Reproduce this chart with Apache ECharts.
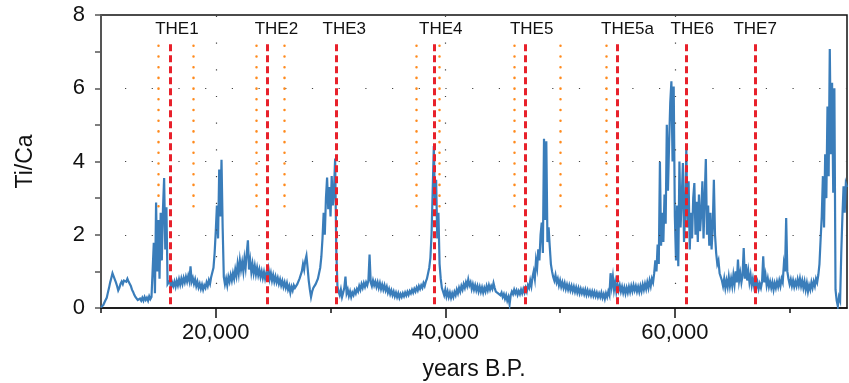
<!DOCTYPE html>
<html>
<head>
<meta charset="utf-8">
<script src="https://cdn.jsdelivr.net/npm/echarts@6/dist/echarts.min.js"></script>
<style>
  html, body { margin: 0; padding: 0; background: #fff; }
  #chart { width: 849px; height: 383px; }
</style>
</head>
<body>
<div id="chart"></div>
<script>
// Ti/Ca record, every 100 years from 10,000 to 75,000 yr B.P.
var startYear = 10000;
var stepYears = 100;
var tiCa = [
  /* 10000 */ 0.02,0.05,0.08,0.15,0.22,0.28,0.42,0.55,0.7,0.82,
  /* 11000 */ 0.95,0.9,0.78,0.7,0.6,0.48,0.55,0.66,0.72,0.65,
  /* 12000 */ 0.75,0.78,0.72,0.8,0.72,0.66,0.6,0.5,0.44,0.36,
  /* 13000 */ 0.3,0.25,0.22,0.18,0.26,0.2,0.28,0.2,0.3,0.22,
  /* 14000 */ 0.28,0.2,0.32,0.24,0.3,0.28,1.78,0.4,2.88,1.0,
  /* 15000 */ 2.4,0.8,2.6,1.3,2.7,3.55,1.6,2.75,0.65,0.62,
  /* 16000 */ 0.75,0.55,0.7,0.6,0.72,0.58,0.74,0.62,0.78,0.64,
  /* 17000 */ 0.8,0.66,0.82,0.7,0.85,0.72,0.88,0.74,1.14,0.72,
  /* 18000 */ 0.82,0.66,0.78,0.6,0.72,0.56,0.66,0.52,0.64,0.5,
  /* 19000 */ 0.62,0.55,0.7,0.6,0.76,0.66,0.85,0.9,1.1,1.5,
  /* 20000 */ 2.1,2.8,1.9,3.78,2.5,4.05,2.2,0.85,0.65,0.8,
  /* 21000 */ 0.62,0.85,0.72,0.9,0.75,0.95,0.8,1.05,0.88,1.2,
  /* 22000 */ 0.95,1.3,1.05,1.25,1.0,1.35,1.1,1.5,1.85,1.05,
  /* 23000 */ 1.3,0.98,1.2,0.95,1.15,0.92,1.1,0.9,1.05,0.85,
  /* 24000 */ 1.0,0.82,0.98,0.8,0.95,0.85,1.05,0.8,0.95,0.75,
  /* 25000 */ 0.9,0.72,0.86,0.7,0.82,0.66,0.78,0.62,0.74,0.58,
  /* 26000 */ 0.7,0.55,0.68,0.5,0.6,0.42,0.58,0.48,0.62,0.55,
  /* 27000 */ 0.55,0.65,0.6,0.8,0.75,1.0,1.2,1.05,1.3,1.43,
  /* 28000 */ 1.1,0.75,0.5,0.3,0.45,0.55,0.5,0.65,0.6,0.8,
  /* 29000 */ 0.95,1.1,1.4,1.9,2.6,2.0,3.0,3.56,2.7,3.3,
  /* 30000 */ 2.5,3.6,2.8,3.2,4.08,1.6,0.6,0.45,0.35,0.5,
  /* 31000 */ 0.3,0.42,0.55,0.86,0.4,0.5,0.33,0.45,0.3,0.42,
  /* 32000 */ 0.35,0.48,0.4,0.52,0.45,0.6,0.5,0.65,0.55,0.68,
  /* 33000 */ 0.58,0.7,0.62,0.75,1.46,0.7,0.6,0.75,0.62,0.72,
  /* 34000 */ 0.58,0.7,0.55,0.68,0.52,0.64,0.5,0.62,0.48,0.58,
  /* 35000 */ 0.42,0.52,0.38,0.48,0.35,0.45,0.32,0.42,0.3,0.4,
  /* 36000 */ 0.28,0.38,0.3,0.4,0.32,0.42,0.34,0.44,0.36,0.46,
  /* 37000 */ 0.4,0.5,0.42,0.52,0.45,0.56,0.48,0.6,0.52,0.62,
  /* 38000 */ 0.55,0.68,0.6,0.72,0.8,0.95,1.1,1.37,2.0,3.2,
  /* 39000 */ 4.42,2.8,3.5,1.9,2.6,1.2,0.8,0.55,0.45,0.35,
  /* 40000 */ 0.5,0.32,0.45,0.3,0.42,0.28,0.4,0.3,0.44,0.35,
  /* 41000 */ 0.5,0.4,0.55,0.45,0.6,0.5,0.65,0.55,0.7,0.6,
  /* 42000 */ 0.78,0.62,0.7,0.52,0.65,0.5,0.62,0.48,0.6,0.45,
  /* 43000 */ 0.58,0.44,0.56,0.42,0.55,0.45,0.6,0.48,0.62,0.5,
  /* 44000 */ 0.6,0.52,0.68,0.55,0.45,0.5,0.4,0.45,0.35,0.42,
  /* 45000 */ 0.3,0.38,0.25,0.35,0.2,0.3,0.1,0.35,0.45,0.38,
  /* 46000 */ 0.5,0.4,0.48,0.36,0.46,0.38,0.5,0.4,0.52,0.42,
  /* 47000 */ 0.55,0.45,0.62,0.55,0.75,0.6,0.85,1.0,0.8,1.3,
  /* 48000 */ 1.1,1.6,1.3,2.0,2.33,1.5,4.62,2.4,4.55,1.8,
  /* 49000 */ 2.2,1.68,1.2,1.0,0.85,0.75,0.9,0.7,0.8,0.62,
  /* 50000 */ 0.75,0.58,0.7,0.55,0.68,0.52,0.64,0.5,0.62,0.48,
  /* 51000 */ 0.6,0.46,0.58,0.44,0.56,0.42,0.54,0.4,0.52,0.4,
  /* 52000 */ 0.5,0.38,0.5,0.36,0.48,0.36,0.46,0.34,0.45,0.33,
  /* 53000 */ 0.44,0.32,0.42,0.3,0.4,0.3,0.42,0.28,0.38,0.25,
  /* 54000 */ 0.4,0.3,0.45,0.35,0.95,0.6,0.85,0.5,0.7,0.45,
  /* 55000 */ 0.65,0.48,0.62,0.45,0.58,0.42,0.56,0.4,0.55,0.42,
  /* 56000 */ 0.58,0.44,0.6,0.46,0.62,0.48,0.6,0.45,0.58,0.44,
  /* 57000 */ 0.6,0.46,0.64,0.5,0.66,0.52,0.7,0.55,0.75,0.6,
  /* 58000 */ 0.8,0.7,0.95,1.3,1.0,1.73,1.2,3.99,1.7,2.6,
  /* 59000 */ 1.8,3.1,2.3,5.0,3.2,4.5,5.6,6.19,4.0,6.05,
  /* 60000 */ 2.5,1.3,2.8,1.14,4.0,2.2,3.0,3.96,1.8,2.6,
  /* 61000 */ 4.37,2.2,3.46,1.6,2.6,1.9,3.0,3.41,2.0,2.9,
  /* 62000 */ 1.8,3.1,2.1,2.6,3.46,1.9,3.0,4.07,2.0,2.8,
  /* 63000 */ 1.7,2.6,1.6,2.2,3.5,2.0,1.5,1.2,1.3,0.95,
  /* 64000 */ 1.0,0.75,0.6,0.8,0.55,0.75,0.58,0.85,0.6,0.8,
  /* 65000 */ 0.6,0.9,0.65,1.0,0.7,1.32,0.75,0.95,0.7,0.9,
  /* 66000 */ 1.64,0.8,1.2,0.75,1.0,0.7,0.9,0.62,0.8,0.6,
  /* 67000 */ 0.75,0.55,0.7,0.52,0.66,0.55,0.72,1.41,0.7,0.9,
  /* 68000 */ 0.62,0.8,0.58,0.72,0.55,0.7,0.5,0.68,0.55,0.72,
  /* 69000 */ 0.58,0.75,0.6,0.8,0.7,1.2,1.0,2.46,1.0,0.8,
  /* 70000 */ 0.65,0.78,0.6,0.75,0.58,0.72,0.6,0.78,0.62,0.8,
  /* 71000 */ 0.6,0.75,0.55,0.72,0.5,0.68,0.45,0.62,0.5,0.7,
  /* 72000 */ 0.55,0.72,0.6,0.8,0.7,0.9,1.2,1.87,2.5,3.6,
  /* 73000 */ 2.2,4.2,3.0,5.5,3.6,7.07,4.2,6.15,3.15,6.0,
  /* 74000 */ 0.5,0.2,0.05,0.3,0.2,1.5,2.5,3.32,2.6,3.4,
  /* 75000 */ 3.3
];

// events (red dashed) and their bounds (orange dotted)
var theNames = ['THE1', 'THE2', 'THE3', 'THE4', 'THE5', 'THE5a', 'THE6', 'THE7'];
var theYears = [16000, 24500, 30500, 39000, 47000, 55000, 61000, 67000];
var boundYears = [15000, 18000, 23500, 26000, 37500, 39500, 46000, 50000, 54000];

// dotted guide grid
var gridYears = [20000, 40000, 60000];
var gridLevels = [2, 4, 6];

// axis ticks
var labelYears = [20000, 40000, 60000];
var minorYears = [10000, 30000, 50000, 70000];

var chart = echarts.init(document.getElementById('chart'));

var seriesData = tiCa.map(function (v, i) {
    return [startYear + i * stepYears, v];
});

var axisFont = 'Liberation Sans, Arial, sans-serif';
var labelNudge = [7, 9, 8, 7, 6, 10, 6, 0];

var redLines = theYears.map(function (yr, i) {
    return [
        { coord: [yr, 7.2], name: theNames[i], label: { offset: [labelNudge[i], 0] } },
        { coord: [yr, 0] }
    ];
});
var orangeLines = boundYears.map(function (yr) {
    return [{ coord: [yr, 7.16] }, { coord: [yr, 2.49] }];
});
var dotLines = gridLevels.map(function (v) { return { yAxis: v }; })
    .concat(gridYears.map(function (v) { return { xAxis: v }; }));

option = {
    animation: false,
    backgroundColor: '#fff',
    grid: {
        left: 101,
        right: 2,
        top: 15,
        bottom: 75,
        outerBoundsMode: 'none',
        show: true,
        borderColor: '#111',
        borderWidth: 1.5
    },
    xAxis: [
        {
            type: 'value',
            min: 10000,
            max: 75000,
            interval: 10000,
            name: 'years B.P.',
            nameLocation: 'middle',
            nameGap: 50,
            nameTextStyle: { fontSize: 23, color: '#111', fontFamily: axisFont },
            axisLine: { lineStyle: { color: '#111', width: 1.5 } },
            axisTick: { customValues: minorYears, length: 5, lineStyle: { color: '#111', width: 1.5 } },
            axisLabel: {
                customValues: labelYears,
                margin: 14,
                fontSize: 22,
                color: '#111',
                fontFamily: axisFont,
                formatter: function (v) { return v.toLocaleString('en-US'); }
            },
            splitLine: { show: false }
        },
        {
            type: 'value',
            min: 10000,
            max: 75000,
            interval: 10000,
            position: 'bottom',
            axisLine: { show: false },
            axisTick: { customValues: labelYears, length: 10, lineStyle: { color: '#111', width: 1.5 } },
            axisLabel: { show: false },
            splitLine: { show: false }
        }
    ],
    yAxis: {
        type: 'value',
        min: 0,
        max: 8,
        interval: 2,
        name: 'Ti/Ca',
        nameLocation: 'middle',
        nameGap: 64,
        nameTextStyle: { fontSize: 23, color: '#111', fontFamily: axisFont },
        axisLine: { show: true, lineStyle: { color: '#555', width: 2 } },
        axisTick: { length: 6, lineStyle: { color: '#555', width: 1.5 } },
        minorTick: { show: true, splitNumber: 2, length: 6, lineStyle: { color: '#555', width: 1.5 } },
        axisLabel: { margin: 16, fontSize: 22, color: '#111', fontFamily: axisFont },
        splitLine: { show: false }
    },
    series: [
        {
            type: 'line',
            data: [],
            z: 1,
            markLine: {
                silent: true,
                symbol: ['none', 'none'],
                label: { show: false },
                lineStyle: { color: '#444', width: 1.2, type: [1.2, 25.5], dashOffset: 2.7 },
                data: dotLines
            }
        },
        {
            name: 'Ti/Ca',
            type: 'line',
            data: seriesData,
            z: 2,
            showSymbol: false,
            sampling: 'none',
            lineStyle: { color: '#3a7dba', width: 2.2, join: 'miter' }
        },
        {
            type: 'line',
            data: [],
            z: 3,
            markLine: {
                silent: true,
                symbol: ['none', 'none'],
                label: { show: false },
                lineStyle: { color: '#ff8a1c', width: 2.5, type: [0.1, 10.6], cap: 'round' },
                data: orangeLines
            }
        },
        {
            type: 'line',
            data: [],
            z: 4,
            markLine: {
                silent: true,
                symbol: ['none', 'none'],
                label: {
                    show: true,
                    position: 'start',
                    distance: 6,
                    formatter: '{b}',
                    fontSize: 17,
                    color: '#111',
                    fontFamily: 'Liberation Sans Narrow, Arial Narrow, sans-serif'
                },
                lineStyle: { color: '#e8212b', width: 3, type: [7, 4] },
                data: redLines
            }
        }
    ]
};

chart.setOption(option);
</script>
</body>
</html>
